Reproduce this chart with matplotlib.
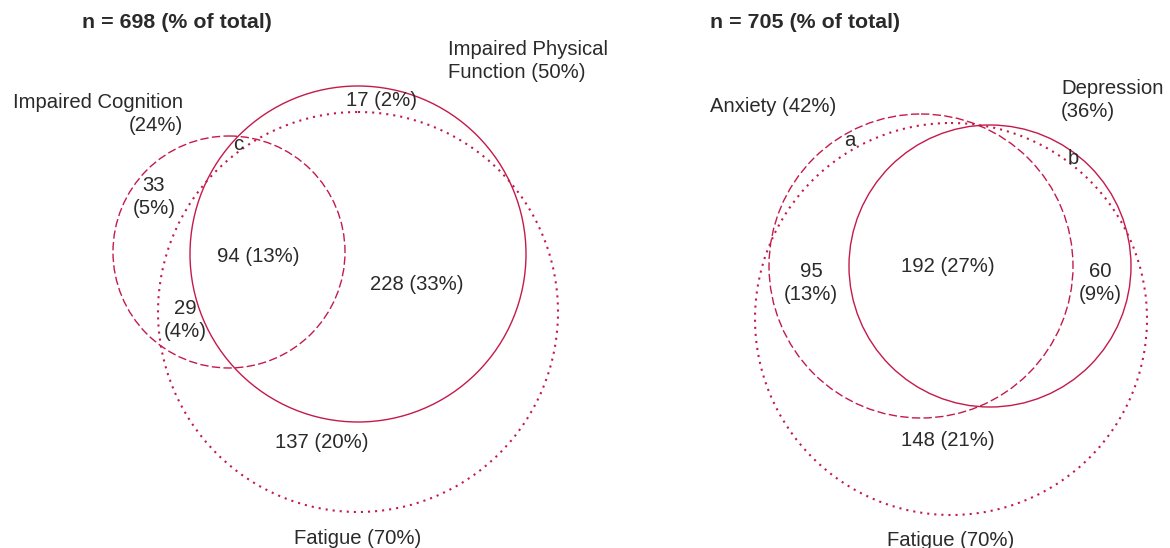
import matplotlib
matplotlib.use("Agg")
import matplotlib.pyplot as plt
from matplotlib.patches import Circle

plt.rcParams['font.family'] = ['Liberation Sans', 'DejaVu Sans']

# ---------------- data ----------------
left_n = 698
left_sets = ["Impaired Cognition", "Impaired Physical\nFunction", "Fatigue"]
left_set_pct = [24, 50, 70]
left_region_counts = [17, 33, 94, 228, 29, 137]
left_region_pct = [2, 5, 13, 33, 4, 20]

right_n = 705
right_sets = ["Anxiety", "Depression\n", "Fatigue"]
right_set_pct = [42, 36, 70]
right_region_counts = [95, 192, 60, 148]
right_region_pct = [13, 27, 9, 21]

# ---------------- layout (pixels) ----------------
COLOR = "#c41a4b"
TXT = "#2a2a2a"
FS = 14.6

fig = plt.figure(figsize=(11.7, 5.48), dpi=100)
ax = fig.add_axes([0, 0, 1, 1])
ax.set_xlim(0, 1170)
ax.set_ylim(548, 0)
ax.set_aspect('equal')
ax.axis('off')

dash = ((0, (6, 2.4)), 1.0)
dot = ((0, (1.0, 2.4)), 1.5)
solid = ('-', 1.0)

def circ(c, r, style):
    ls, lw = style
    ax.add_patch(Circle(c, r, fill=False, edgecolor=COLOR, lw=lw, linestyle=ls))

# left panel circles: cognition, physical, fatigue
left_geom = [((229, 252), 116, dash), ((358, 254), 168, solid), ((358, 312), 200, dot)]
for c, r, st in left_geom:
    circ(c, r, st)

right_geom = [((921, 266), 152, dash), ((990, 266), 141, solid), ((951, 319), 196, dot)]
for c, r, st in right_geom:
    circ(c, r, st)

def t(x, y, s, ha='center', **kw):
    ax.text(x, y, s, ha=ha, va='center', fontsize=kw.pop('fs', FS), color=TXT,
            linespacing=1.22, **kw)

# titles
t(82, 22, f"n = {left_n} (% of total)", ha='left', fontweight='bold', fs=15.4)
t(710, 22, f"n = {right_n} (% of total)", ha='left', fontweight='bold', fs=15.4)

# left set labels
t(183, 114, f"{left_sets[0]}\n({left_set_pct[0]}%)", ha='right', multialignment='right')
t(448, 61, f"{left_sets[1]} ({left_set_pct[1]}%)", ha='left', multialignment='left')
t(358, 538, f"{left_sets[2]} ({left_set_pct[2]}%)")

# left regions
lc, lp = left_region_counts, left_region_pct
t(382, 100, f"{lc[0]} ({lp[0]}%)")
t(238, 145, "c")
t(154, 197, f"{lc[1]}\n({lp[1]}%)")
t(258, 257, f"{lc[2]} ({lp[2]}%)")
t(417, 284, f"{lc[3]} ({lp[3]}%)")
t(185, 320, f"{lc[4]}\n({lp[4]}%)")
t(322, 443, f"{lc[5]} ({lp[5]}%)")

# right set labels
t(710, 107, f"{right_sets[0]} ({right_set_pct[0]}%)", ha='left')
t(1061, 100, f"{right_sets[1]}({right_set_pct[1]}%)", ha='left', multialignment='left')
t(951, 540, f"{right_sets[2]} ({right_set_pct[2]}%)")

rc, rp = right_region_counts, right_region_pct
t(850, 140, "a")
t(1073, 159, "b")
t(811, 283, f"{rc[0]}\n({rp[0]}%)")
t(948, 266, f"{rc[1]} ({rp[1]}%)")
t(1100, 283, f"{rc[2]}\n({rp[2]}%)")
t(948, 441, f"{rc[3]} ({rp[3]}%)")

fig.savefig("out.png", dpi=100)
